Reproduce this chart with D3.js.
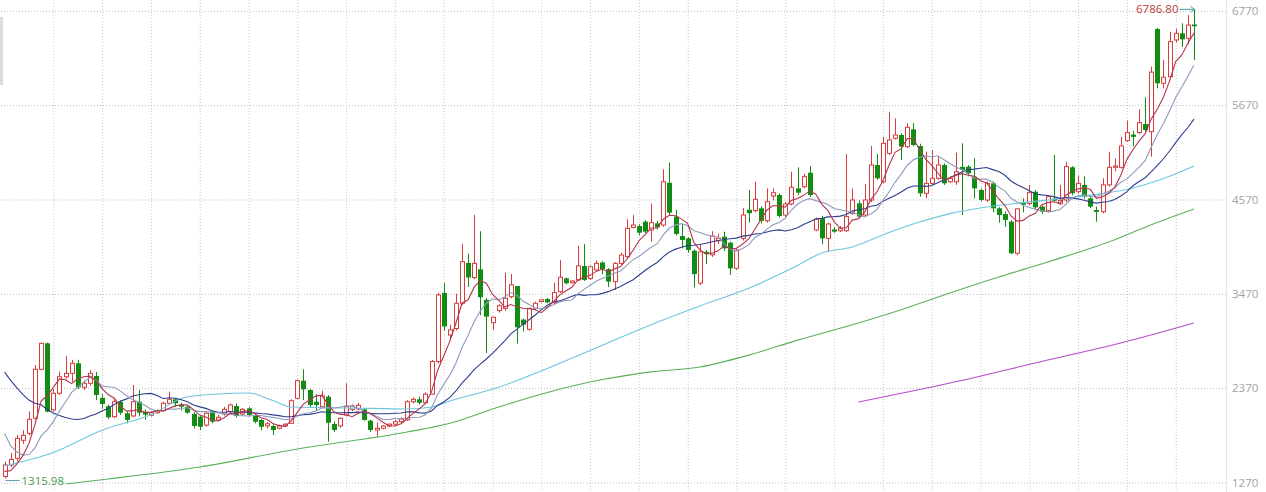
<!DOCTYPE html>
<html><head><meta charset="utf-8">
<script src="https://cdn.jsdelivr.net/npm/d3@7"></script>
<style>
html,body{margin:0;padding:0;background:#fff;}
svg{display:block;}
</style></head>
<body>
<svg id="chart" width="1266" height="492"></svg>
<script>
// ---- data ----
const yTicks = [1270, 2370, 3470, 4570, 5670, 6770];
const open = [1340,1474,1552,1762,1843,2019,2590,2893,2116,2310,2503,2543,2660,2380,2427,2512,2257,2160,2037,2212,
2077,2046,2212,2095,2055,2083,2107,2194,2240,2174,2154,2070,2037,1940,2096,2000,2069,2096,2162,2069,
2135,2057,1999,1930,1929,1902,1929,1960,2252,2457,2349,2212,2154,2270,1952,1929,2057,2123,2130,2123,
1991,1882,1902,1929,1950,1979,1999,2212,2240,2200,2300,2680,3480,2990,3065,3360,3830,3660,3755,3400,
3133,3275,3300,3437,3560,3170,3057,3300,3380,3410,3367,3495,3650,3600,3632,3795,3650,3748,3835,3757,
3612,3825,3903,4245,4260,4311,4214,4292,4272,4765,4370,4144,4117,3973,3595,3960,3925,4090,4136,4066,
3767,4117,4450,4440,4467,4322,4611,4622,4389,4517,4700,4719,4882,4214,4350,4117,4220,4206,4206,4409,
4525,4389,4564,4972,4777,5108,5283,5322,5186,5388,5194,4642,4758,4817,4972,4777,4777,4950,4953,4836,
4680,4564,4758,4467,4400,4311,3943,4530,4525,4660,4486,4440,4580,4520,4564,4945,4661,4740,4583,4447,
4428,4740,4945,4945,5256,5326,5350,5450,5360,6557,5925,6002,6430,6507,6450,6610];
const high = [1513,1614,1825,1880,2100,2640,2900,2900,2360,2562,2745,2700,2700,2460,2580,2560,2300,2180,2240,2230,
2100,2407,2349,2120,2100,2120,2210,2329,2250,2200,2170,2090,2050,2090,2110,2060,2150,2190,2190,2140,
2150,2070,2010,1975,1950,1945,1960,2240,2470,2590,2360,2300,2340,2290,1980,2030,2427,2180,2200,2140,
2000,1970,1940,1960,2000,2030,2230,2260,2270,2320,2700,3480,3595,3110,3470,4050,3940,4390,4200,3420,
3200,3350,3720,3700,3560,3180,3310,3380,3410,3420,3600,3863,3660,3630,4030,4050,3800,3860,3850,3770,
3840,3950,4340,4390,4280,4330,4520,4320,4922,5000,4450,4284,4130,3990,4050,3980,4200,4170,4194,4080,
4000,4470,4681,4777,4490,4700,4700,4640,4540,4894,4945,4870,4960,4360,4380,4300,4250,4260,5100,4700,
4560,4750,5195,5100,5300,5593,5517,5340,5458,5460,5220,5127,5147,5077,4990,4840,5116,5225,4970,5050,
4700,4780,4780,4480,4430,4330,4470,4583,4740,4680,4500,4620,5089,4740,5010,4960,4850,4840,4600,4486,
4817,5127,5050,5300,5489,5370,5621,5761,6118,6570,6196,6526,6560,6624,6721,6786.8];
const low = [1315.98,1450,1517,1720,1820,2000,2580,2090,2100,2290,2480,2445,2360,2350,2400,2232,2130,2010,2020,2060,
1960,2030,2040,2000,2040,2070,2095,2180,2150,2110,2070,1900,1880,1920,1960,1980,2050,2080,2030,2050,
2040,1960,1880,1900,1824,1890,1915,1950,2240,2232,2150,2110,2140,1746,1860,1910,2040,2100,2110,1990,
1860,1804,1890,1915,1935,1960,1990,2190,2180,2190,2290,2660,3040,2930,3040,3340,3550,3640,3220,2780,
3050,3250,3270,3420,2890,3030,3040,3280,3370,3360,3350,3480,3580,3590,3620,3620,3630,3740,3700,3550,
3515,3810,3880,4230,4150,4180,4080,4220,4250,4389,4150,4000,3950,3546,3570,3820,3900,4050,3970,3690,
3750,4090,4300,4420,4290,4300,4560,4360,4360,4500,4620,4700,4600,4200,4050,3960,4180,4190,4190,4390,
4350,4370,4540,4800,4760,5090,5270,5030,5170,5190,4602,4583,4740,4800,4740,4760,4740,4389,4840,4583,
4550,4540,4420,4300,4250,3930,3920,4420,4500,4460,4400,4420,4540,4506,4540,4620,4640,4580,4470,4311,
4409,4720,4900,4930,5240,5190,5330,5360,5070,5866,5866,5990,6400,6350,6380,6196];
const close = [1474,1540,1785,1820,2007,2590,2893,2096,2310,2503,2543,2660,2380,2427,2543,2290,2185,2030,2212,2084,
2000,2212,2084,2060,2083,2107,2194,2240,2194,2154,2084,1929,1920,2077,1979,2030,2123,2174,2046,2123,
2057,1979,1920,1955,1882,1929,1950,2224,2457,2357,2174,2174,2279,1967,1882,2018,2154,2162,2170,1999,
1882,1902,1929,1950,1979,2010,2212,2240,2200,2300,2680,3457,3090,3049,3360,3845,3660,3825,3430,3204,
3197,3330,3418,3574,3080,3110,3300,3360,3400,3370,3484,3663,3593,3620,3795,3632,3786,3825,3757,3612,
3825,3922,4234,4272,4183,4195,4300,4245,4777,4416,4168,4098,3981,3700,3960,3935,4144,4117,4000,3767,
3981,4389,4410,4572,4322,4544,4649,4377,4517,4712,4650,4836,4622,4340,4117,4284,4195,4234,4370,4564,
4370,4564,4972,4817,5225,5264,5322,5186,5411,5205,4642,4758,4817,4972,4758,4817,4894,4914,4875,4700,
4564,4758,4467,4389,4330,3943,4460,4510,4650,4478,4428,4603,4556,4560,4953,4642,4758,4603,4486,4425,
4740,4945,4960,5194,5350,5300,5466,5380,6055,5925,5995,6410,6507,6437,6604,6590];
// closes before the first visible candle (needed for the short moving averages)
const priorClose = [3500,3450,3400,3350,3300,3250,3200,3150,3080,3030,2997,2500,2200,1950,1803,1500,1400,1346,1280];
// longer moving averages: [candle index, value]
const ma60Pts = [[0,1463],[8,1620],[16,1880],[24,2060],[30,2270],[40,2314],[44,2225],[47,2150],[57,2139],[66,2127],[70,2150],[73,2220],[81,2380],[89,2600],[98,2870],[106,3110],[114,3328],[122,3535],[129,3765],[134,3946],[139,4016],[145,4185],[150,4307],[155,4405],[161,4482],[167,4533],[174,4587],[180,4638],[185,4704],[191,4840],[195,4960]];
const ma120Pts = [[10,1253],[17,1311],[32,1451],[48,1661],[66,1859],[73,1960],[81,2150],[89,2320],[98,2470],[106,2560],[114,2617],[122,2755],[130,2930],[139,3110],[147,3285],[155,3480],[163,3666],[171,3840],[182,4100],[188,4275],[195,4459]];
const ma250Pts = [[140,2209],[155,2430],[171,2698],[183,2897],[195,3130]];
const maxLabel = "6786.80";
const minLabel = "1315.98";

// ---- drawing ----
const W = 1266, H = 492;
const svg = d3.select("#chart");
const x = d3.scaleLinear().domain([0, 200]).range([4.5, 1224.5]);
const y = d3.scaleLinear().domain([1270, 6770]).range([482.5, 10.8]);
const N = close.length;

// left grey bar
svg.append("rect").attr("x",0).attr("y",17).attr("width",3).attr("height",68).attr("fill","#dcdcdc");

// vertical grid
const vg = svg.append("g").attr("transform","translate(0,0)")
  .call(d3.axisBottom(x).tickValues(d3.range(8, 200, 8)).tickSize(H).tickFormat(""));
vg.select(".domain").remove();
vg.selectAll(".tick line").attr("stroke","#c9c9c9").attr("stroke-dasharray","1,2");

// right axis line
svg.append("line").attr("x1",1226.5).attr("x2",1226.5).attr("y1",0).attr("y2",H).attr("stroke","#e2e2e2");

// horizontal grid + labels
const ya = svg.append("g").attr("transform","translate(1226,0)")
  .call(d3.axisRight(y).tickValues(yTicks).tickSize(-1226).tickPadding(6).tickFormat(d3.format("d")));
ya.select(".domain").remove();
ya.selectAll(".tick line").attr("stroke","#bdbdbd").attr("stroke-dasharray","1,2");
ya.selectAll(".tick text").attr("fill","#a3a3a3").style("font-family","'Open Sans', sans-serif").style("font-size","11.5px");

// candles
const red = "#d63c3c", green = "#138c13";
const cg = svg.append("g");
const idx = d3.range(N);
cg.selectAll("line.wick").data(idx).join("line").attr("class","wick")
  .attr("x1", i => Math.round(x(i)) + 0.5).attr("x2", i => Math.round(x(i)) + 0.5)
  .attr("y1", i => y(high[i])).attr("y2", i => y(low[i]))
  .attr("stroke", i => close[i] >= open[i] ? red : green).attr("stroke-width", 1);
cg.selectAll("rect.body").data(idx).join("rect").attr("class","body")
  .attr("x", i => close[i] >= open[i] ? Math.round(x(i)) - 1.5 : Math.round(x(i)) - 2)
  .attr("width", i => close[i] >= open[i] ? 4 : 5)
  .attr("y", i => close[i] >= open[i] ? y(Math.max(open[i], close[i])) : y(Math.max(open[i], close[i])))
  .attr("height", i => Math.max(1, Math.abs(y(open[i]) - y(close[i]))))
  .attr("fill", i => close[i] >= open[i] ? "#fff" : green)
  .attr("stroke", i => close[i] >= open[i] ? red : "none")
  .attr("stroke-width", 1);

// moving averages
const allClose = priorClose.concat(close);
function ma(n) {
  const out = [];
  for (let i = 0; i < N; i++) {
    const j = i + priorClose.length;
    if (j - n + 1 < 0) continue;
    out.push([i, d3.mean(allClose.slice(j - n + 1, j + 1))]);
  }
  return out;
}
const lineLin = d3.line().x(d => x(d[0])).y(d => y(d[1]));
const lineSm = d3.line().x(d => x(d[0])).y(d => y(d[1])).curve(d3.curveMonotoneX);
const mas = [
  {pts: ma60Pts, color: "#6cc6de", gen: lineSm},
  {pts: ma120Pts, color: "#5cb05c", gen: lineSm},
  {pts: ma250Pts, color: "#b64ccb", gen: lineSm},
  {pts: ma(20), color: "#2c3d8e", gen: lineLin},
  {pts: ma(10), color: "#8d9bbd", gen: lineLin},
  {pts: ma(5), color: "#b5354e", gen: lineLin}
];
svg.append("g").selectAll("path").data(mas).join("path")
  .attr("d", d => d.gen(d.pts)).attr("fill","none")
  .attr("stroke", d => d.color).attr("stroke-width", 1.1);

// max / min labels
const iMax = d3.maxIndex(high), iMin = d3.minIndex(low);
const yMax = y(high[iMax]), yMin = y(low[iMin]);
const ax = Math.round(x(iMax)) + 0.5;
svg.append("line").attr("x1", ax - 15).attr("x2", ax).attr("y1", yMax).attr("y2", yMax).attr("stroke","#3d9fa6");
svg.append("path").attr("d", `M${ax-4},${yMax-3}L${ax},${yMax}L${ax-4},${yMax+3}`).attr("fill","none").attr("stroke","#3d9fa6");
svg.append("text").attr("x", ax - 16).attr("y", yMax).attr("dy","0.35em").attr("text-anchor","end")
  .attr("fill","#bf3a3a").style("font-family","'Open Sans', sans-serif").style("font-size","11.5px").text(maxLabel);
const bx = Math.round(x(iMin)) + 0.5;
svg.append("line").attr("x1", bx).attr("x2", bx + 14).attr("y1", yMin + 2).attr("y2", yMin + 2).attr("stroke","#5f9aa8");
svg.append("text").attr("x", bx + 16).attr("y", yMin + 2).attr("dy","0.35em").attr("text-anchor","start")
  .attr("fill","#4b9a4b").style("font-family","'Open Sans', sans-serif").style("font-size","11.5px").text(minLabel);
</script>
</body></html>
